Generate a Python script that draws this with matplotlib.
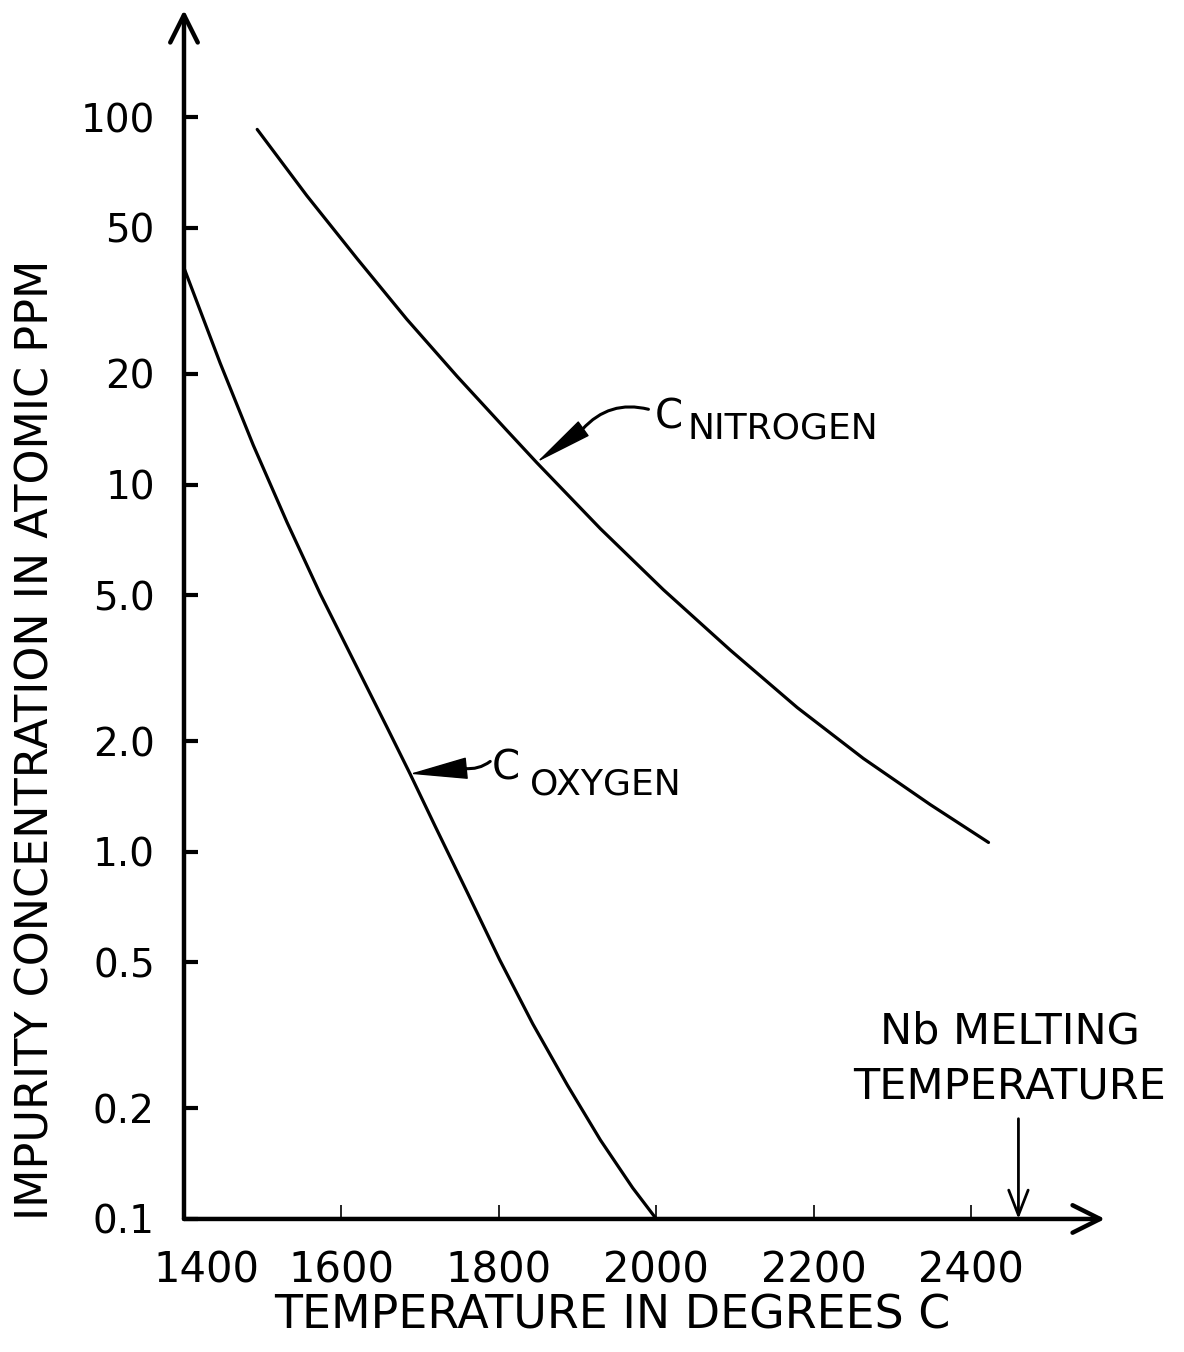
import numpy as np
import matplotlib
matplotlib.use('Agg')
import matplotlib.pyplot as plt
from matplotlib.ticker import NullLocator, FixedLocator, FixedFormatter
import matplotlib.transforms as mtransforms

plt.rcParams['font.family'] = ['DejaVu Sans']

# impurity concentration curves (atomic ppm vs temperature, deg C)
t_nitrogen = [1493, 1556, 1620, 1683, 1747, 1810, 1848, 1929, 2009, 2094, 2179, 2263, 2348, 2422]
c_nitrogen = [92.7, 61.2, 41.2, 28.2, 19.7, 14.05, 11.48, 7.58, 5.17, 3.54, 2.47, 1.795, 1.344, 1.06]

t_oxygen = [1400, 1446, 1488, 1531, 1573, 1615, 1658, 1687, 1719, 1760, 1801, 1843, 1887, 1929, 1970, 2000]
c_oxygen = [38.9, 21.4, 12.8, 7.88, 5.04, 3.33, 2.18, 1.633, 1.174, 0.774, 0.508, 0.340, 0.2315, 0.164, 0.1215, 0.1]

x_ticks = [1400, 1600, 1800, 2000, 2200, 2400]
y_ticks = [100, 50, 20, 10, 5.0, 2.0, 1.0, 0.5, 0.2, 0.1]
y_ticklabels = ['100', '50', '20', '10', '5.0', '2.0', '1.0', '0.5', '0.2', '0.1']

nb_melting = 2460

fig = plt.figure(figsize=(11.84, 13.52), dpi=100)
ax = fig.add_axes([0.1554, 0.0984, 0.7779, 0.8942])
ax.set_yscale('log')
ax.set_xlim(1400, 2570)
ax.set_ylim(0.1, 196)

for s in ax.spines.values():
    s.set_visible(False)

# axes drawn as arrows
axis_arrow = dict(arrowstyle='->,head_length=0.9,head_width=0.45', lw=3.2,
                  color='k', mutation_scale=22, shrinkA=0, shrinkB=0)
ax.annotate('', xy=(0, 1), xytext=(0, 0), xycoords='axes fraction', arrowprops=axis_arrow)
ax.annotate('', xy=(1, 0), xytext=(0, 0), xycoords='axes fraction', arrowprops=axis_arrow)

ax.yaxis.set_major_locator(FixedLocator(y_ticks))
ax.yaxis.set_major_formatter(FixedFormatter(y_ticklabels))
ax.yaxis.set_minor_locator(NullLocator())
ax.set_xticks(x_ticks)
ax.set_xticklabels([str(t) for t in x_ticks])
ax.tick_params(axis='y', direction='in', length=10, width=3, pad=21, labelsize=28)
ax.tick_params(axis='x', direction='in', length=10, width=1.2, pad=22, labelsize=30)
# nudge the first temperature label off the corner
lbl = ax.get_xticklabels()[0]
lbl.set_transform(lbl.get_transform() + mtransforms.ScaledTranslation(0.22, 0, fig.dpi_scale_trans))

ax.plot(t_nitrogen, c_nitrogen, color='k', lw=2.3, solid_capstyle='round', solid_joinstyle='round')
ax.plot(t_oxygen, c_oxygen, color='k', lw=2.3, solid_capstyle='round', solid_joinstyle='round')

# curve labels: thin curved lead plus a long narrow pointer head
head = dict(arrowstyle='-|>,head_length=1.9,head_width=0.3', lw=1, color='k',
            fc='k', mutation_scale=20, shrinkA=0, shrinkB=0)
lead = dict(arrowstyle='-', lw=2.2, color='k', shrinkA=0, shrinkB=0)

ax.annotate('', xy=(1906, 14.13), xytext=(1990, 16.03),
            arrowprops=dict(lead, connectionstyle='arc3,rad=0.3'))
ax.annotate('', xy=(1848, 11.5), xytext=(1906, 14.13), arrowprops=head)
ax.text(1998, 15.2, 'C', fontsize=29, va='center', ha='left')
ax.text(2040, 14.2, 'NITROGEN', fontsize=26, va='center', ha='left')

ax.annotate('', xy=(1756, 1.686), xytext=(1789, 1.762),
            arrowprops=dict(lead, connectionstyle='arc3,rad=-0.2'))
ax.annotate('', xy=(1687, 1.63), xytext=(1756, 1.686),
            arrowprops=dict(head, arrowstyle='-|>,head_length=1.9,head_width=0.36'))
ax.text(1791, 1.686, 'C', fontsize=29, va='center', ha='left')
ax.text(1840, 1.524, 'OXYGEN', fontsize=26, va='center', ha='left')

# melting point marker
ax.annotate('', xy=(nb_melting, 0.1), xytext=(nb_melting, 0.1875),
            arrowprops=dict(arrowstyle='->,head_length=0.9,head_width=0.35', lw=2,
                            color='k', mutation_scale=20, shrinkA=0, shrinkB=0))
ax.text(2449, 0.201, 'Nb MELTING\nTEMPERATURE', fontsize=31,
        ha='center', va='bottom', linespacing=1.4)

fig.text(0.5 * (270 + 955) / 1184, 1 - 1316 / 1352, 'TEMPERATURE IN DEGREES C',
         fontsize=33, ha='center', va='center')
fig.text(36 / 1184, 1 - 740 / 1352, 'IMPURITY CONCENTRATION IN ATOMIC PPM',
         fontsize=32, ha='center', va='center', rotation=90)

fig.savefig('out.png', dpi=100)
